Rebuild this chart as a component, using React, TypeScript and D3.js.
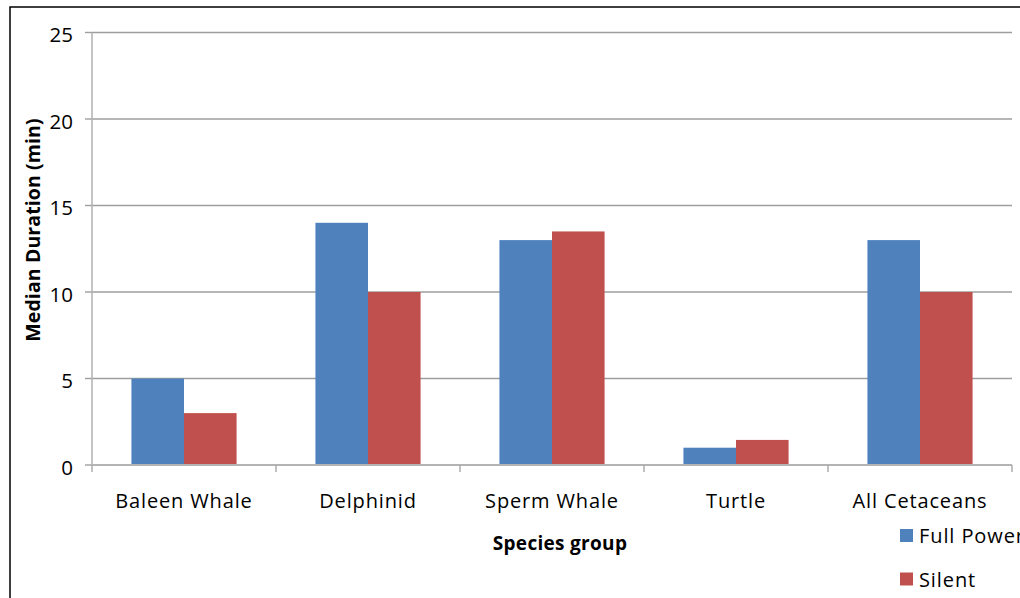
import React from "react";
import * as d3 from "d3";

const categories = ["Baleen Whale", "Delphinid", "Sperm Whale", "Turtle", "All Cetaceans"];
const seriesNames = ["Full Power", "Silent"];
const fullPower = [5, 14, 13, 1, 13];
const silent = [3, 10, 13.5, 1.45, 10];
const yTicks = [0, 5, 10, 15, 20, 25];
const colors = ["#4F81BD", "#C0504D"];

const W = 1020;
const H = 598;
const plot = { left: 92, right: 1012, top: 32.5, bottom: 465 };
const FONT = "'Open Sans', 'DejaVu Sans', sans-serif";

export default function App() {
  const x = d3.scaleBand<string>().domain(categories).range([plot.left, plot.right]).padding(0);
  const bw = x.bandwidth();
  const barW = bw / 3.5;
  const x1 = d3
    .scaleBand<string>()
    .domain(seriesNames)
    .range([(bw - 2 * barW) / 2, (bw + 2 * barW) / 2])
    .padding(0);
  const y = d3.scaleLinear().domain([0, 25]).range([plot.bottom, plot.top]);
  const series = [fullPower, silent];

  return (
    <svg
      width={W}
      height={H}
      style={{ position: "absolute", left: 0, top: 0, background: "#fff" }}
      fontFamily={FONT}
    >
      <rect x={0} y={0} width={W} height={H} fill="#fff" />
      {/* outer frame */}
      <rect x={10} y={7} width={W + 20} height={H + 20} fill="none" stroke="#000" strokeWidth={1.5} />

      {/* gridlines */}
      {yTicks.filter((t) => t !== 0).map((t) => (
        <line key={t} x1={plot.left} x2={plot.right} y1={y(t)} y2={y(t)} stroke="#9E9E9E" strokeWidth={1.4} />
      ))}
      {/* y tick marks */}
      {yTicks.map((t) => (
        <line key={"yt" + t} x1={plot.left - 7} x2={plot.left} y1={y(t)} y2={y(t)} stroke="#9E9E9E" strokeWidth={1.4} />
      ))}
      {/* y axis line */}
      <line x1={plot.left} x2={plot.left} y1={plot.top} y2={plot.bottom} stroke="#B0B0B0" strokeWidth={1.5} />

      {/* bars */}
      {categories.map((c, i) => (
        <g key={c} transform={`translate(${x(c)},0)`}>
          {series.map((s, j) => (
            <rect
              key={j}
              x={x1(seriesNames[j])}
              y={y(s[i])}
              width={x1.bandwidth()}
              height={y(0) - y(s[i])}
              fill={colors[j]}
            />
          ))}
        </g>
      ))}

      {/* x axis line */}
      <line x1={plot.left} x2={plot.right} y1={plot.bottom} y2={plot.bottom} stroke="#B4B4B4" strokeWidth={2} />
      {/* category ticks */}
      {d3.range(categories.length + 1).map((i) => (
        <line
          key={"xt" + i}
          x1={plot.left + i * bw}
          x2={plot.left + i * bw}
          y1={plot.bottom}
          y2={plot.bottom + 7}
          stroke="#A8A8A8"
          strokeWidth={1.4}
        />
      ))}

      {/* y tick labels */}
      {yTicks.map((t) => (
        <text key={"yl" + t} x={73} y={y(t) + 9.5} textAnchor="end" fontSize={20.5} fill="#000">
          {t}
        </text>
      ))}

      {/* category labels */}
      {categories.map((c) => (
        <text
          key={"cl" + c}
          x={(x(c) as number) + bw / 2}
          y={508}
          textAnchor="middle"
          fontSize={20}
          letterSpacing={0.85}
          fill="#000"
        >
          {c}
        </text>
      ))}

      {/* axis titles */}
      <text
        transform={`translate(39.5,230) rotate(-90)`}
        textAnchor="middle"
        fontSize={19.5}
        fontWeight="bold"
        letterSpacing={0.1}
        fill="#000"
      >
        Median Duration (min)
      </text>
      <text x={560} y={550} textAnchor="middle" fontSize={19} fontWeight="bold" letterSpacing={0.3} fill="#000">
        Species group
      </text>

      {/* legend */}
      {seriesNames.map((n, j) => (
        <g key={n} transform={`translate(900,${529 + j * 43.5})`}>
          <rect x={0} y={0} width={13} height={13} fill={colors[j]} />
          <text x={19} y={14} fontSize={20} letterSpacing={0.9} fill="#000">
            {n}
          </text>
        </g>
      ))}
    </svg>
  );
}
